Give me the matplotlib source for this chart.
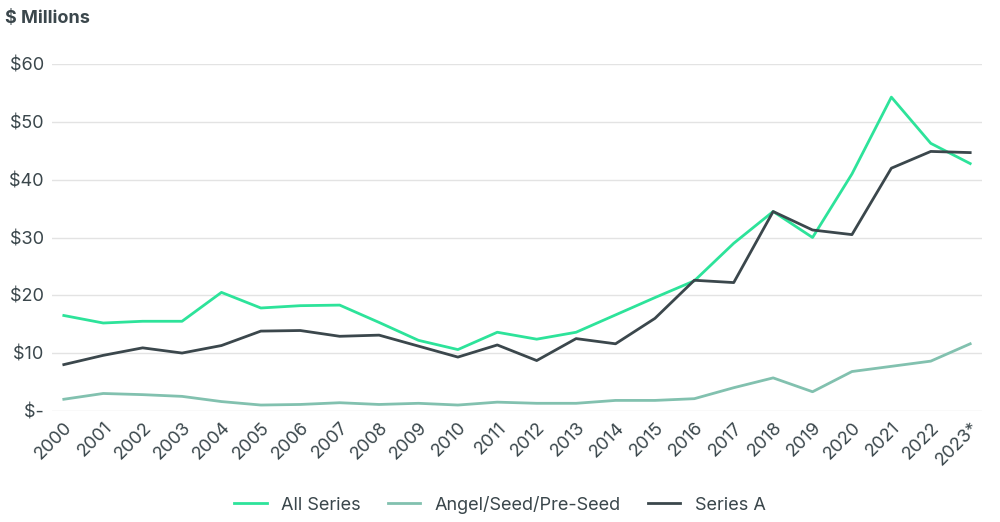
import matplotlib
matplotlib.use("Agg")
import matplotlib.pyplot as plt
from matplotlib.ticker import FuncFormatter

plt.rcParams["font.family"] = "Inter"

years = [str(y) for y in range(2000, 2023)] + ["2023*"]
all_series = [16.5, 15.2, 15.5, 15.5, 20.5, 17.8, 18.2, 18.3, 15.3, 12.2, 10.6, 13.6,
              12.4, 13.6, 16.6, 19.6, 22.5, 29.0, 34.5, 30.0, 41.0, 54.3, 46.3, 42.8]
angel = [2.0, 3.0, 2.8, 2.5, 1.6, 1.0, 1.1, 1.4, 1.1, 1.3, 1.0, 1.5,
         1.3, 1.3, 1.8, 1.8, 2.1, 4.0, 5.7, 3.3, 6.8, 7.7, 8.6, 11.6]
series_a = [8.0, 9.6, 10.9, 10.0, 11.3, 13.8, 13.9, 12.9, 13.1, 11.2, 9.3, 11.4,
            8.7, 12.5, 11.6, 16.0, 22.6, 22.2, 34.5, 31.3, 30.5, 42.0, 44.9, 44.7]

fig = plt.figure(figsize=(10, 5.22), dpi=100)
ax = fig.add_axes([0.052, 0.213, 0.93, 0.664])
x = range(len(years))
ax.plot(x, all_series, color="#2de39a", lw=2, label="All Series")
ax.plot(x, angel, color="#82c1af", lw=2, label="Angel/Seed/Pre-Seed")
ax.plot(x, series_a, color="#3b474c", lw=2, label="Series A")

ax.set_ylim(0, 60)
ax.set_xlim(-0.3, len(years) - 0.7)
ax.set_yticks(range(0, 61, 10))
ax.yaxis.set_major_formatter(FuncFormatter(lambda v, p: "$-" if v == 0 else f"${int(v)}"))
ax.grid(axis="y", color="#e3e3e3", lw=1)
ax.set_axisbelow(True)
for s in ax.spines.values():
    s.set_visible(False)
ax.tick_params(length=0, labelsize=13, colors="#3b474c")
ax.set_xticks(list(x))
ax.set_xticklabels(years, rotation=45, ha="right", rotation_mode="anchor")
ax.tick_params(axis="x", pad=6)
ax.tick_params(axis="y", pad=6)
fig.text(0.005, 0.965, "$ Millions", fontsize=13, fontweight="bold", color="#3b474c", va="center")
fig.legend(loc="lower center", bbox_to_anchor=(0.5, -0.015), ncol=3, frameon=False,
           fontsize=13, labelcolor="#3b474c", handlelength=1.8, columnspacing=1.5)
fig.savefig("out.png")
